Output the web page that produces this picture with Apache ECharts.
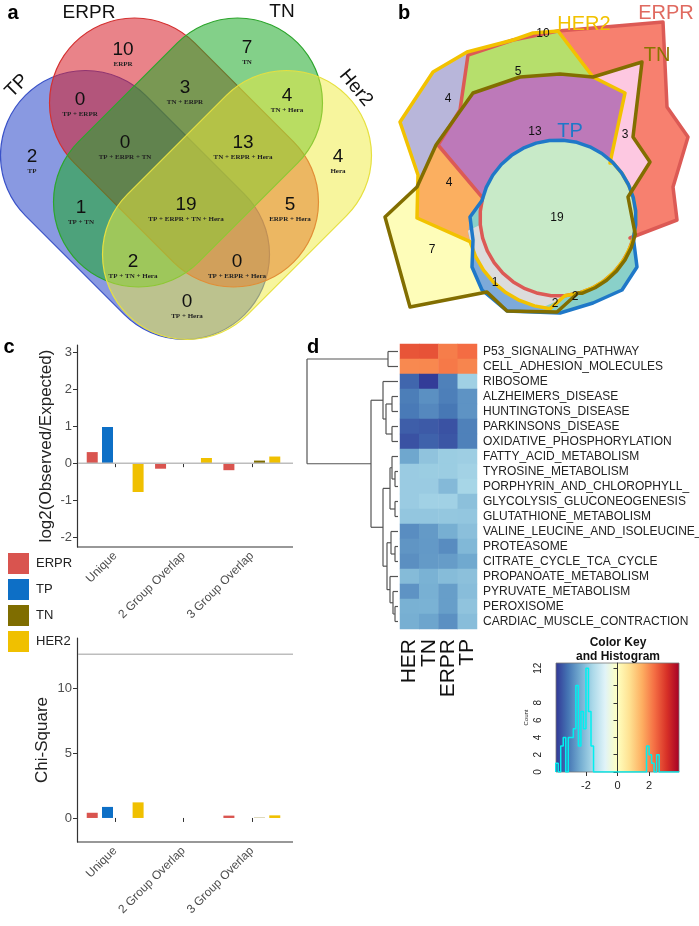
<!DOCTYPE html>
<html><head><meta charset="utf-8">
<script src="https://cdn.jsdelivr.net/npm/echarts@6/dist/echarts.min.js"></script>
<style>html,body{margin:0;padding:0;background:#fff}#c{width:699px;height:926px}</style>
</head><body><div id="c"></div>
<script>
// ================= DATA =================
// Panel a: 4-set Venn
const vennSets = ['TP', 'ERPR', 'TN', 'Her2'];
const vennCounts = [10, 7, 0, 3, 2, 0, 4, 13, 4, 1, 19, 5, 2, 0, 0];
const vennRegionNames = ['ERPR', 'TN', 'TP + ERPR', 'TN + ERPR', 'TP', 'TP + ERPR + TN', 'TN + Hera',
  'TN + ERPR + Hera', 'Hera', 'TP + TN', 'TP + ERPR + TN + Hera', 'ERPR + Hera', 'TP + TN + Hera',
  'TP + ERPR + Hera', 'TP + Hera'];
// Panel b: Euler diagram
const eulerSets = ['HER2', 'ERPR', 'TN', 'TP'];
const eulerCounts = [10, 5, 4, 13, 3, 4, 19, 7, 1, 2, 2];
// Panel c
const groupCategories = ['Unique', '2 Group Overlap', '3 Group Overlap'];
const subtypes = ['ERPR', 'TP', 'TN', 'HER2'];
const log2ERPR = [0.30, -0.15, -0.19];
const log2TP = [0.98, 0, 0];
const log2TN = [0, 0, 0.07];
const log2HER2 = [-0.78, 0.14, 0.18];
const chiERPR = [0.40, 0, 0.18];
const chiTP = [0.85, 0, 0];
const chiTN = [0, 0, 0.02];
const chiHER2 = [1.20, 0, 0.20];
const chiCritical = 12.59;
const log2Ticks = [-2, -1, 0, 1, 2, 3];
const chiTicks = [0, 5, 10];
// Panel d
const heatColumns = ['HER', 'TN', 'ERPR', 'TP'];
const pathways = ['P53_SIGNALING_PATHWAY', 'CELL_ADHESION_MOLECULES', 'RIBOSOME', 'ALZHEIMERS_DISEASE',
  'HUNTINGTONS_DISEASE', 'PARKINSONS_DISEASE', 'OXIDATIVE_PHOSPHORYLATION', 'FATTY_ACID_METABOLISM',
  'TYROSINE_METABOLISM', 'PORPHYRIN_AND_CHLOROPHYLL_', 'GLYCOLYSIS_GLUCONEOGENESIS', 'GLUTATHIONE_METABOLISM',
  'VALINE_LEUCINE_AND_ISOLEUCINE_DEGRADATION', 'PROTEASOME', 'CITRATE_CYCLE_TCA_CYCLE', 'PROPANOATE_METABOLISM',
  'PYRUVATE_METABOLISM', 'PEROXISOME', 'CARDIAC_MUSCLE_CONTRACTION'];
const heatHER = [2.65, 2.00, -3.30, -3.00, -3.05, -3.40, -3.55, -2.42, -1.80, -1.80, -1.80, -1.90, -2.78, -2.68, -2.76, -2.10, -2.70, -2.27, -2.30];
const heatTN = [2.68, 2.02, -3.82, -2.75, -2.85, -3.45, -3.35, -1.95, -1.78, -1.80, -1.70, -1.90, -2.60, -2.62, -2.60, -2.25, -2.28, -2.25, -2.45];
const heatERPR = [2.15, 2.20, -2.95, -2.98, -3.08, -3.55, -3.50, -1.78, -1.78, -2.12, -1.70, -1.88, -2.30, -2.80, -2.58, -2.08, -2.55, -2.55, -2.75];
const heatTP = [2.35, 2.05, -1.72, -2.70, -2.70, -2.95, -2.95, -1.75, -1.68, -1.62, -2.00, -1.90, -2.02, -2.15, -2.40, -2.00, -2.06, -1.95, -2.06];
const histStart = -3.92, histBinWidth = 0.16;
const histCounts = [1,0,3,4,0,4,4,5,10,3,7,5,12,7,3, 0,0,0,0,0,0,0,0,0,0,0,0,0,0,0,0,0,0,0,0,0, 3,2,1,0,2, 0,0,0,0,0,0,0,0];
const keyTicks = [-2, 0, 2];
const countLabelTicks = [0, 2, 4, 6, 8, 12];
const countTicks = [0, 2, 4, 6, 8, 10, 12];

// ================= STYLE / LAYOUT =================
const FONT = '"Liberation Sans", Arial, sans-serif';
const SERIF = '"Liberation Serif", "DejaVu Serif", serif';
const subColors = {ERPR: '#d9544f', TP: '#0d6fc6', TN: '#7f6d00', HER2: '#f0c000'};
const RdYlBu = ['#313695','#4575b4','#74add1','#abd9e9','#e0f3f8','#ffffbf','#fee090','#fdae61','#f46d43','#d73027','#a50026'];
const keyMin = -3.9, keyMax = 3.9;

const chart = echarts.init(document.getElementById('c'), null, {renderer: 'canvas'});

function barSeries(name, vals, idx) {
  return {
    name, type: 'bar', data: vals, xAxisIndex: idx, yAxisIndex: idx,
    barWidth: 11, barGap: '39%', itemStyle: {color: subColors[name]}, silent: true
  };
}
const heatRows = [heatHER, heatTN, heatERPR, heatTP];
const heatData = [];
pathways.forEach((p, r) => heatColumns.forEach((c, ci) => heatData.push([ci, r, heatRows[ci][r]])));
const histLine = [[histStart, 0]];
histCounts.forEach((c, i) => {
  histLine.push([histStart + i * histBinWidth, c]);
  histLine.push([histStart + (i + 1) * histBinWidth, c]);
});
histLine.push([histStart + histCounts.length * histBinWidth, 0]);

const axisLineStyle = {color: '#333', width: 1.2};
const catAxis = (gi) => ({
  gridIndex: gi, type: 'category', data: groupCategories,
  axisLine: {show: false},
  axisTick: {show: true, alignWithLabel: true, length: 4, lineStyle: {color: '#333'}},
  axisLabel: {rotate: 45, fontSize: 12, color: '#4d4d4d', margin: 7, interval: 0, fontFamily: FONT}
});
const gridBase = {outerBoundsMode: 'none', containLabel: false};

chart.setOption({
  animation: false,
  textStyle: {fontFamily: FONT},
  grid: [
    Object.assign({left: 81, top: 345, width: 205, height: 202}, gridBase),
    Object.assign({left: 81, top: 638, width: 205, height: 204}, gridBase),
    Object.assign({left: 400, top: 344, width: 77, height: 285}, gridBase),
    Object.assign({left: 556, top: 663, width: 123, height: 109}, gridBase)
  ],
  legend: {
    data: subtypes, orient: 'vertical', left: 3, top: 548, itemWidth: 21, itemHeight: 21, itemGap: 5,
    icon: 'rect', textStyle: {fontSize: 13, color: '#222', padding: [0, 0, 0, 2]}, selectedMode: false
  },
  xAxis: [
    catAxis(0), catAxis(1),
    {gridIndex: 2, type: 'category', data: heatColumns, axisLine: {show: false}, axisTick: {show: false},
      axisLabel: {rotate: 90, fontSize: 21, color: '#111', margin: 10, interval: 0}},
    {gridIndex: 3, type: 'value', min: keyMin, max: keyMax, axisLine: {show: false}, splitLine: {show: false},
      axisTick: {show: true, customValues: keyTicks, length: 4, lineStyle: {color: '#333'}},
      axisLabel: {customValues: keyTicks, fontSize: 11, color: '#222', margin: 8}}
  ],
  yAxis: [
    {gridIndex: 0, type: 'value', min: -2.27, max: 3.2, offset: 4,
      axisLine: {show: true, lineStyle: axisLineStyle}, splitLine: {show: false},
      axisTick: {show: true, customValues: log2Ticks, length: 4, lineStyle: {color: '#333'}},
      axisLabel: {customValues: log2Ticks, fontSize: 13, color: '#4d4d4d', margin: 5},
      name: 'log2(Observed/Expected)', nameLocation: 'middle', nameGap: 22,
      nameTextStyle: {fontSize: 17, color: '#222'}},
    {gridIndex: 1, type: 'value', min: -1.85, max: 13.85, offset: 4,
      axisLine: {show: true, lineStyle: axisLineStyle}, splitLine: {show: false},
      axisTick: {show: true, customValues: chiTicks, length: 4, lineStyle: {color: '#333'}},
      axisLabel: {customValues: chiTicks, fontSize: 13, color: '#4d4d4d', margin: 5},
      name: 'Chi-Square', nameLocation: 'middle', nameGap: 26,
      nameTextStyle: {fontSize: 17, color: '#222'}},
    {gridIndex: 2, type: 'category', data: pathways, inverse: true, position: 'right',
      axisLine: {show: false}, axisTick: {show: false},
      axisLabel: {fontSize: 12, color: '#222', margin: 6, interval: 0}},
    {gridIndex: 3, type: 'value', min: 0, max: 12.6, offset: 9, splitLine: {show: false},
      axisLine: {show: true, lineStyle: {color: '#333', width: 1}},
      axisTick: {show: true, customValues: countTicks, length: 4, lineStyle: {color: '#333'}},
      axisLabel: {customValues: countLabelTicks, rotate: 90, fontSize: 10, color: '#222', margin: 4},
      name: 'Count', nameLocation: 'middle', nameGap: 18, nameRotate: 90,
      nameTextStyle: {fontSize: 6, color: '#222'}}
  ],
  visualMap: {type: 'continuous', show: false, min: keyMin, max: keyMax, seriesIndex: 8, dimension: 2,
    inRange: {color: RdYlBu}},
  series: [
    barSeries('ERPR', log2ERPR, 0), barSeries('TP', log2TP, 0), barSeries('TN', log2TN, 0), barSeries('HER2', log2HER2, 0),
    barSeries('ERPR', chiERPR, 1), barSeries('TP', chiTP, 1), barSeries('TN', chiTN, 1), barSeries('HER2', chiHER2, 1),
    {type: 'heatmap', xAxisIndex: 2, yAxisIndex: 2, data: heatData, silent: true, itemStyle: {borderWidth: 0}},
    {type: 'line', xAxisIndex: 3, yAxisIndex: 3, data: histLine, showSymbol: false, silent: true,
      lineStyle: {color: '#00f0f0', width: 1.5}, z: 5}
  ]
});

// ================= GRAPHICS =================
const G = [];
function text(x, y, t, font, fill, extra) {
  const el = Object.assign({type: 'text', x, y, z: 20, silent: true,
    style: {text: t, font, fill: fill || '#111', align: 'center', verticalAlign: 'middle',
      textAlign: 'center', textVerticalAlign: 'middle'}}, extra || {});
  G.push(el);
}
function line(x1, y1, x2, y2, color, w, z) {
  G.push({type: 'line', z: z || 10, silent: true, shape: {x1, y1, x2, y2}, style: {stroke: color, lineWidth: w}});
}
function poly(points, fill, stroke, w, z) {
  G.push({type: 'polygon', z: z || 1, silent: true, shape: {points},
    style: {fill: fill || 'none', stroke: stroke || 'none', lineWidth: w || 0, lineJoin: 'round'}});
}
function arc(cx, cy, r, a0, a1, n) {
  const pts = [];
  for (let i = 0; i <= n; i++) {
    const a = (a0 + (a1 - a0) * i / n) * Math.PI / 180;
    pts.push([cx + r * Math.cos(a), cy + r * Math.sin(a)]);
  }
  return pts;
}

// panel letters
text(13, 13, 'a', 'bold 20px ' + FONT, '#000');
text(404, 13, 'b', 'bold 20px ' + FONT, '#000');
text(9, 347, 'c', 'bold 20px ' + FONT, '#000');
text(313, 347, 'd', 'bold 20px ' + FONT, '#000');

// ---- Panel a: capsule Venn ----
const capsules = [
  {cx: 135, cy: 205, rot: -Math.PI / 4, fill: 'rgba(40,70,200,0.55)', stroke: '#3a52c8'},
  {cx: 184, cy: 152.5, rot: -Math.PI / 4, fill: 'rgba(215,30,40,0.55)', stroke: '#d43030'},
  {cx: 188, cy: 152.5, rot: Math.PI / 4, fill: 'rgba(30,170,40,0.55)', stroke: '#2ca52c'},
  {cx: 237, cy: 205, rot: Math.PI / 4, fill: 'rgba(240,235,60,0.5)', stroke: '#e6e040'}
];
const capL = 310, capW = 170;
capsules.forEach((c, i) => {
  G.push({type: 'rect', x: c.cx, y: c.cy, rotation: c.rot, z: 2 + i, silent: true,
    shape: {x: -capL / 2, y: -capW / 2, width: capL, height: capW, r: capW / 2},
    style: {fill: c.fill, stroke: c.stroke, lineWidth: 1.2}});
});
const vennPos = [[123, 50], [247, 48], [80, 100], [185, 88], [32, 157], [125, 143], [287, 96], [243, 143],
  [338, 157], [81, 208], [186, 205], [290, 205], [133, 262], [237, 262], [187, 302]];
vennCounts.forEach((v, i) => {
  const p = vennPos[i];
  text(p[0], p[1], String(v), '19px ' + FONT, '#111');
  text(p[0], p[1] + 14, vennRegionNames[i], 'bold 7px ' + SERIF, '#222');
});
text(17, 86, vennSets[0], '19px ' + FONT, '#111', {rotation: Math.PI / 4});
text(89, 13, vennSets[1], '19px ' + FONT, '#111');
text(282, 12, vennSets[2], '19px ' + FONT, '#111');
text(356, 88, vennSets[3], '19px ' + FONT, '#111', {rotation: -Math.PI * 0.28});

// ---- Panel b: Euler polygons ----
const CX = 558, CY = 218, CR = 78;
const E = [[468,55],[513,40],[558,31],[663,22],[667,107],[688,137],[673,187],[677,220],[630,238],
  ...arc(CX, CY, CR, 15, 195, 18), [438,145],[460,110]];
const H = [[533,33],[558,31],[593,77],[625,93],[610,163], ...arc(CX, CY, CR, -45, 85, 12),
  ...arc(CX, CY, 91, 95, 165, 7), [417,218],[418,175],[400,122],[433,72],[467,52],[513,40]];
const N = [[642,62],[593,77],[560,74],[520,77],[473,93],[436,145],[417,187],[385,217],[410,307],[487,292],
  [507,311],[557,312],[578,293], ...arc(CX, CY, 79, 72, 12, 6), [628,197],[650,162],[633,137]];
const T = [...arc(CX, CY, CR, 193, 375, 18), [637,267],[622,290],[593,303],[560,313],[507,311],[482,290],
  [472,267],[473,240],[470,217]];
poly([[417,187],[385,217],[410,307],[487,292],[478,280],[472,262],[471,242],[417,218]], '#fefdb9');
poly(E, '#f7806f');
poly([[467,52],[433,72],[400,122],[418,175],[419,186],[436,145],[460,110],[468,55]], '#b8b6da');
poly([[468,55],[513,40],[533,33],[558,31],[593,77],[560,74],[520,77],[473,93],[460,110]], '#b6df6c');
poly([[593,77],[642,62],[633,137],[650,162],[628,197],[620,180],[610,163],[625,93]], '#fdc8e1');
poly([[436,145],[473,93],[520,77],[560,74],[593,77],[625,93],[610,163],[558,218],[482,198]], '#bd79b9');
poly([[436,145],[482,198],[478,218],[471,242],[417,218],[418,185]], '#fbaf60');
poly(T, '#89d0c9');
poly([[470,217],[473,240],[472,267],[482,290],[507,311],[548,313], ...arc(CX, CY, 91, 95, 170, 8)], '#7daad9');
poly([...arc(CX, CY, 91, 100, 172, 8), ...arc(CX, CY, CR, 175, 80, 8)], '#dcdcdc');
G.push({type: 'circle', z: 1, silent: true, shape: {cx: CX, cy: CY, r: CR}, style: {fill: '#c8eac8'}});
poly(E, null, '#dc5a55', 3.5, 3);
poly(H, null, '#f2c200', 3.5, 4);
poly(T, null, '#1f78c8', 3.5, 5);
poly(N, null, '#826e00', 3.5, 6);
const eulerPos = [[543,34],[518,72],[448,99],[535,132],[625,135],[449,183],[557,218],[432,250],[495,283],[555,304],[575,297]];
eulerCounts.forEach((v, i) => text(eulerPos[i][0], eulerPos[i][1], String(v), '12px ' + FONT, '#111'));
text(584, 24, eulerSets[0], '20px ' + FONT, '#f2c200');
text(666, 13, eulerSets[1], '20px ' + FONT, '#e06a60');
text(657, 55, eulerSets[2], '20px ' + FONT, '#8a7400');
text(570, 131, eulerSets[3], '20px ' + FONT, '#1f78c8');

// ---- Panel c: reference lines via axis scales ----
const px = (f, v) => chart.convertToPixel(f, v);
const xL = 77, xR = 293;
const yBot0 = px({yAxisIndex: 0}, -2.27);
const yZero = px({yAxisIndex: 0}, 0);
const yBot1 = px({yAxisIndex: 1}, -1.85);
const yCrit = px({yAxisIndex: 1}, chiCritical);
line(xL, yBot0, xR, yBot0, '#333', 1.2);
line(xL, yBot1, xR, yBot1, '#333', 1.2);
line(xL + 1, yZero, xR, yZero, '#bdbdbd', 1.5);
line(xL + 1, yCrit, xR, yCrit, '#bdbdbd', 1.5);

// ---- Panel d: dendrogram ----
const dendro = {h: 91, c: [{h: 10, c: [0, 1]}, {h: 27, c: [
  {h: 15, c: [2, {h: 12, c: [{h: 6, c: [3, 4]}, {h: 6, c: [5, 6]}]}]},
  {h: 15, c: [
    {h: 8, c: [{h: 6, c: [7, {h: 3, c: [8, 9]}]}, {h: 3, c: [10, 11]}]},
    {h: 11, c: [{h: 7, c: [12, {h: 3, c: [13, 14]}]}, {h: 8, c: [15, {h: 5, c: [16, {h: 3, c: [17, 18]}]}]}]}
  ]}
]}]};
const leafX = 398;
function drawNode(n) {
  if (typeof n === 'number') return {x: leafX, y: px({yAxisIndex: 2}, n)};
  const kids = n.c.map(drawNode);
  const x = leafX - n.h;
  kids.forEach(k => line(x, k.y, k.x, k.y, '#555', 1.2));
  line(x, kids[0].y, x, kids[kids.length - 1].y, '#555', 1.2);
  return {x, y: (kids[0].y + kids[kids.length - 1].y) / 2};
}
drawNode(dendro);

// ---- Colour key ----
const kx0 = px({xAxisIndex: 3}, keyMin), kx1 = px({xAxisIndex: 3}, keyMax);
const ky0 = px({yAxisIndex: 3}, 12.6), ky1 = px({yAxisIndex: 3}, 0);
G.push({type: 'rect', z: 0, silent: true, shape: {x: kx0, y: ky0, width: kx1 - kx0, height: ky1 - ky0},
  style: {fill: {type: 'linear', x: 0, y: 0, x2: 1, y2: 0,
    colorStops: RdYlBu.map((c, i) => ({offset: i / (RdYlBu.length - 1), color: c}))},
    stroke: '#777', lineWidth: 0.8}});
text(618, 643, 'Color Key', 'bold 12px ' + FONT, '#111');
text(618, 657, 'and Histogram', 'bold 12px ' + FONT, '#111');

chart.setOption({graphic: {elements: G}});
</script></body></html>
